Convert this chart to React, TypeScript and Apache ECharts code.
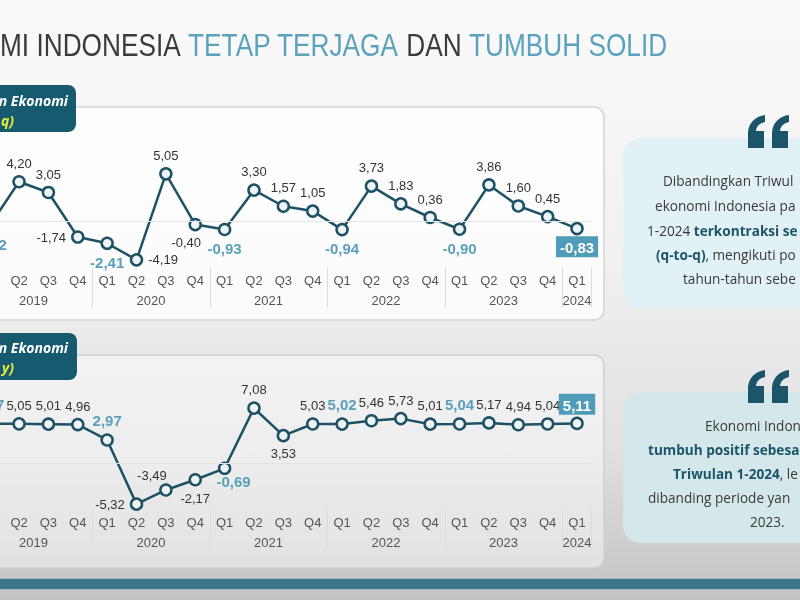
import React, { useEffect, useRef } from "react";
import * as echarts from "echarts";

// ---------- data ----------
const quarters = [
  "Q1", "Q2", "Q3", "Q4",
  "Q1", "Q2", "Q3", "Q4",
  "Q1", "Q2", "Q3", "Q4",
  "Q1", "Q2", "Q3", "Q4",
  "Q1", "Q2", "Q3", "Q4",
  "Q1",
];
const years = [
  "2019", "2019", "2019", "2019",
  "2020", "2020", "2020", "2020",
  "2021", "2021", "2021", "2021",
  "2022", "2022", "2022", "2022",
  "2023", "2023", "2023", "2023",
  "2024",
];
const qtqValues = [
  -0.52, 4.2, 3.05, -1.74,
  -2.41, -4.19, 5.05, -0.4,
  -0.93, 3.3, 1.57, 1.05,
  -0.94, 3.73, 1.83, 0.36,
  -0.9, 3.86, 1.6, 0.45,
  -0.83,
];
const yoyValues = [
  5.07, 5.05, 5.01, 4.96,
  2.97, -5.32, -3.49, -2.17,
  -0.69, 7.08, 3.53, 5.03,
  5.02, 5.46, 5.73, 5.01,
  5.04, 5.17, 4.94, 5.04,
  5.11,
];

// ---------- label placement (style) ----------
type Place = { position: string; offset?: number[]; distance?: number };
const qtqPlace: Record<number, Place> = {
  0: { position: "bottom" },
  3: { position: "left" },
  4: { position: "bottom" },
  5: { position: "right" },
  7: { position: "bottom", offset: [-9, 0] },
  8: { position: "bottom" },
  12: { position: "bottom" },
  16: { position: "bottom" },
  20: { position: "bottom", distance: 1 },
};
const yoyPlace: Record<number, Place> = {
  5: { position: "left" },
  6: { position: "top", offset: [-14, 4] },
  7: { position: "bottom" },
  8: { position: "bottom", offset: [9, -6] },
  10: { position: "bottom" },
  20: { position: "top", distance: 2 },
};

// the visible page is a crop: the chart surface starts OX px left of the page
const OX = 40;
const DARK = "#1d5266";
const TEAL = "#5aa0bb";
const fmt = (v: number) => v.toFixed(2).replace(".", ",");

function buildData(values: number[], place: Record<number, Place>) {
  return values.map((v, i) => {
    const p = place[i] || { position: "top" };
    const label: any = {
      show: true,
      position: p.position,
      offset: p.offset || [0, 0],
      distance: p.distance ?? 5,
      formatter: fmt(v),
    };
    if (i === values.length - 1) {
      label.backgroundColor = "#4f9cb9";
      label.color = "#ffffff";
      label.fontWeight = "bold";
      label.fontSize = 15;
      label.padding = [4, 4, 2, 4];
    } else if (quarters[i] === "Q1") {
      label.color = TEAL;
      label.fontWeight = "bold";
      label.fontSize = 15;
    }
    return { value: v, label };
  });
}

const quotePath = (() => {
  const mark = (dx: number) =>
    `M${dx + 17} 0 C${dx + 8} 1 ${dx + 1} 7 ${dx} 17 L${dx} 33 L${dx + 16} 33 L${dx + 16} 16 L${dx + 8} 16 C${dx + 8.5} 11 ${dx + 12} 8 ${dx + 17} 7 Z`;
  return mark(0) + " " + mark(24);
})();

let registered = false;

function yearFormatter(value: string, index: number) {
  if (index === quarters.length - 1) return `{n|${value}}`;
  if (index % 4 === 1) return `{s|${value}}`;
  return "";
}

function makeXAxes(gridIndex: number) {
  return [
    {
      gridIndex,
      type: "category",
      data: quarters,
      position: "bottom",
      axisLine: { show: false },
      axisTick: { show: false },
      axisLabel: {
        // the first quarter lies outside the cropped view
        interval: (i: number) => i > 0,
        margin: 7,
        color: "#555",
        fontSize: 13,
      },
    },
    {
      gridIndex,
      type: "category",
      data: years,
      position: "bottom",
      axisLine: { show: false },
      axisTick: {
        show: true,
        interval: (i: number) => i > 0 && i % 4 === 0,
        length: 40,
        lineStyle: { color: "#dcdcdc", width: 1 },
      },
      axisLabel: {
        interval: 0,
        margin: 27,
        color: "#555",
        fontSize: 13,
        formatter: yearFormatter,
        rich: {
          s: { padding: [0, 0, 0, 29], color: "#555", fontSize: 13 },
          n: { color: "#555", fontSize: 13 },
        },
      },
    },
  ];
}

function makeSeries(values: number[], place: Record<number, Place>, idx: number) {
  return {
    type: "line",
    xAxisIndex: idx * 2,
    yAxisIndex: idx,
    data: buildData(values, place),
    symbol: "circle",
    symbolSize: 11,
    itemStyle: { color: "#eef4f6", borderColor: DARK, borderWidth: 2.5 },
    lineStyle: { color: DARK, width: 2.5 },
    label: { color: "#333", fontSize: 13, fontFamily: "Liberation Sans" },
    markLine: {
      silent: true,
      symbol: "none",
      label: { show: false },
      lineStyle: { color: "#e4e4e4", type: "solid", width: 1 },
      data: [{ yAxis: 0 }],
    },
    z: 3,
  };
}

const bodyFont = "'Open Sans', 'Noto Sans', sans-serif";
const BODY_SIZE = 13.6;
const richBody = {
  n: { fill: "#3a3a3a", fontSize: BODY_SIZE, fontFamily: bodyFont },
  b: { fill: "#1b5569", fontSize: BODY_SIZE, fontFamily: bodyFont, fontWeight: "bold" },
};

function line(text: string, x: number, y: number) {
  return {
    type: "text",
    x: x + OX,
    y,
    silent: true,
    style: { text, rich: richBody, verticalAlign: "middle", textVerticalAlign: "middle", fill: "#3a3a3a", fontSize: BODY_SIZE, fontFamily: bodyFont },
    z: 10,
  };
}

const tagStyle = (text: string, fill: string) => ({
  text,
  fill,
  fontSize: 14,
  fontWeight: "bold",
  fontStyle: "italic",
  fontFamily: bodyFont,
  align: "right",
  textAlign: "right",
  verticalAlign: "middle",
  textVerticalAlign: "middle",
});

export default function App() {
  const ref = useRef<HTMLDivElement>(null);
  useEffect(() => {
    if (!ref.current) return;
    if (!registered) {
      echarts.graphic.registerShape("quote", echarts.graphic.extendPath(quotePath, {}) as any);
      registered = true;
    }
    const chart = echarts.init(ref.current, undefined, { renderer: "svg" });

    const graphic: any[] = [
      {
        type: "rect",
        shape: { x: 0, y: 0, width: 800 + OX, height: 600 },
        style: {
          fill: new echarts.graphic.LinearGradient(0, 0, 0, 1, [
            { offset: 0, color: "#fafafa" },
            { offset: 0.45, color: "#f0f0f0" },
            { offset: 0.75, color: "#e0e0e0" },
            { offset: 1, color: "#c3c3c3" },
          ]),
        },
        z: -100,
        silent: true,
      },
      // chart panels
      {
        type: "rect",
        shape: { x: OX - 20, y: 107, width: 624, height: 213, r: 10 },
        style: { fill: "rgba(255,255,255,0.8)", stroke: "#d3d3d3", lineWidth: 1.5 },
        z: -50,
        silent: true,
      },
      {
        type: "rect",
        shape: { x: OX - 20, y: 355, width: 624, height: 213, r: 10 },
        style: { fill: "rgba(255,255,255,0.45)", stroke: "#cfcfcf", lineWidth: 1.5 },
        z: -50,
        silent: true,
      },
      // label boxes
      {
        type: "rect",
        shape: { x: OX - 20, y: 85, width: 96, height: 47, r: 8 },
        style: { fill: "#155a6f" },
        z: -40,
        silent: true,
      },
      {
        type: "rect",
        shape: { x: OX - 20, y: 333, width: 97, height: 47, r: 8 },
        style: { fill: "#155a6f" },
        z: -40,
        silent: true,
      },
      { type: "text", x: OX + 68, y: 100, silent: true, z: 10, style: tagStyle("n Ekonomi", "#ffffff") },
      { type: "text", x: OX + 14, y: 120, silent: true, z: 10, style: tagStyle("q)", "#e4ec3c") },
      { type: "text", x: OX + 68, y: 347, silent: true, z: 10, style: tagStyle("n Ekonomi", "#ffffff") },
      { type: "text", x: OX + 14, y: 367, silent: true, z: 10, style: tagStyle("y)", "#e4ec3c") },
      // title
      {
        type: "text",
        x: OX,
        y: 45,
        scaleX: 0.82,
        silent: true,
        z: 10,
        style: {
          text: "{d|MI INDONESIA }{t|TETAP TERJAGA}{d| DAN }{t|TUMBUH SOLID}",
          verticalAlign: "middle",
          textVerticalAlign: "middle",
          rich: {
            d: { fill: "#3b3b3b", fontSize: 32, fontFamily: "'Liberation Sans', sans-serif" },
            t: { fill: "#5aa2bd", fontSize: 32, fontFamily: "'Liberation Sans', sans-serif" },
          },
        },
      },
      // right boxes
      {
        type: "rect",
        shape: { x: OX + 623, y: 138, width: 200, height: 170, r: 18 },
        style: { fill: "#e1f1f5" },
        z: -40,
        silent: true,
      },
      {
        type: "rect",
        shape: { x: OX + 623, y: 392, width: 200, height: 151, r: 18 },
        style: { fill: "#d4e8ec" },
        z: -40,
        silent: true,
      },
      { type: "quote", x: OX + 748, y: 115, style: { fill: "#1b5569" }, z: 5, silent: true },
      { type: "quote", x: OX + 748, y: 370, style: { fill: "#1b5569" }, z: 5, silent: true },
      line("{n|Dibandingkan Triwul}", 663, 180),
      line("{n|ekonomi Indonesia pa}", 655, 205),
      line("{n|1-2024 }{b|terkontraksi se}", 647, 230),
      line("{b|(q-to-q)}{n|, mengikuti po}", 656, 254),
      line("{n|tahun-tahun sebe}", 683, 278),
      line("{n|Ekonomi Indon}", 705, 425),
      line("{b|tumbuh positif sebesa}", 648, 449),
      line("{b|Triwulan 1-2024}{n|, le}", 673, 473),
      line("{n|dibanding periode yan}", 648, 497),
      line("{n|2023.}", 750, 521),
      // bottom bar
      { type: "rect", shape: { x: 0, y: 578, width: 800 + OX, height: 1 }, style: { fill: "#9cb9c3" }, z: -30, silent: true },
      { type: "rect", shape: { x: 0, y: 579, width: 800 + OX, height: 10 }, style: { fill: "#3b7589" }, z: -30, silent: true },
      { type: "rect", shape: { x: 0, y: 589, width: 800 + OX, height: 1 }, style: { fill: "#9dbdc8" }, z: -30, silent: true },
    ];

    chart.setOption({
      animation: false,
      textStyle: { fontFamily: "Liberation Sans" },
      grid: [
        { left: OX - 25, width: 616.7, top: 165, height: 102.4, containLabel: false },
        { left: OX - 25, width: 616.7, top: 393.3, height: 116.1, containLabel: false },
      ],
      xAxis: [...makeXAxes(0), ...makeXAxes(1)],
      yAxis: [
        { gridIndex: 0, type: "value", min: -5, max: 6, show: false },
        { gridIndex: 1, type: "value", min: -6, max: 9, show: false },
      ],
      series: [makeSeries(qtqValues, qtqPlace, 0), makeSeries(yoyValues, yoyPlace, 1)],
      graphic,
    });
    return () => chart.dispose();
  }, []);
  return (
    <div style={{ position: "fixed", left: 0, top: 0, width: 800, height: 600, overflow: "hidden" }}>
      <div
        ref={ref}
        style={{ position: "absolute", left: -OX, top: 0, width: 800 + OX, height: 600 }}
      />
    </div>
  );
}
